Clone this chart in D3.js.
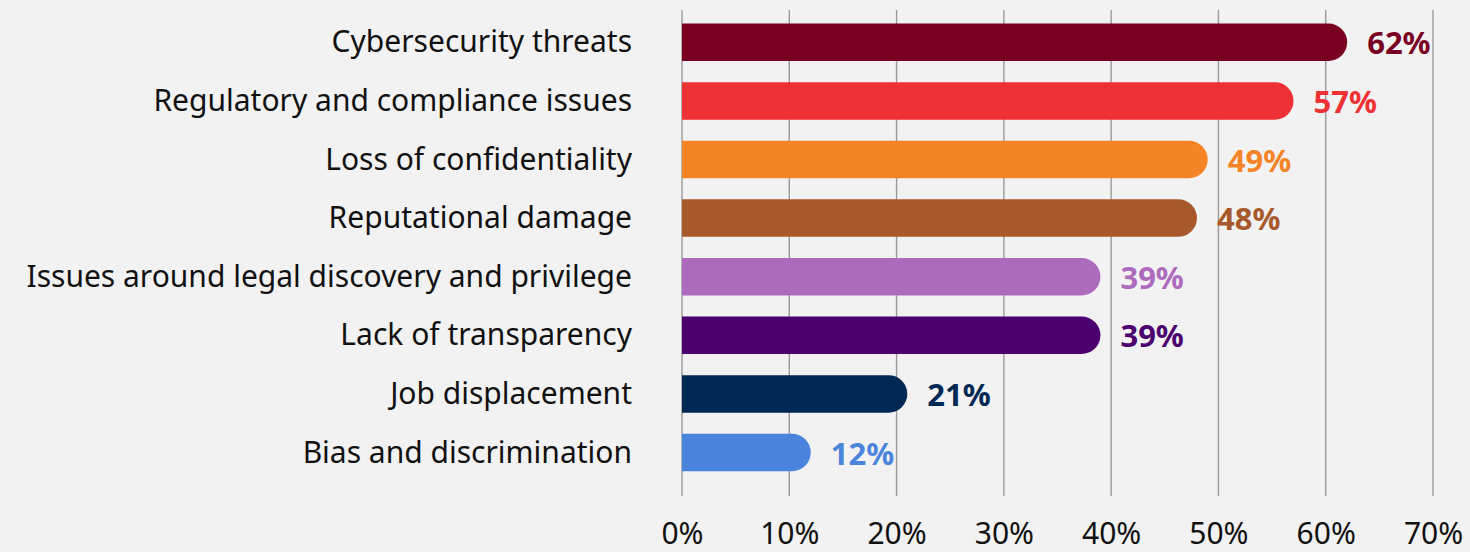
<!DOCTYPE html>
<html>
<head>
<meta charset="utf-8">
<script src="https://cdn.jsdelivr.net/npm/d3@7"></script>
<style>
  html, body { margin: 0; padding: 0; background: #f2f2f2; }
  svg { display: block; }
  text { font-family: "Noto Sans", "Open Sans", sans-serif; }
</style>
</head>
<body>
<svg id="chart" width="1470" height="552"></svg>
<script>
// Risk categories, share of respondents (%) and bar colours
const categories = [
  "Cybersecurity threats",
  "Regulatory and compliance issues",
  "Loss of confidentiality",
  "Reputational damage",
  "Issues around legal discovery and privilege",
  "Lack of transparency",
  "Job displacement",
  "Bias and discrimination"
];
const values = [62, 57, 49, 48, 39, 39, 21, 12];
const colors = ["#7a0022", "#ee3135", "#f58426", "#a8592b", "#ad6bbd", "#4c0070", "#002855", "#4b84dd"];
const tickValues = [0, 10, 20, 30, 40, 50, 60, 70];

const width = 1470, height = 552;
const margin = { left: 682, right: 37 };

const svg = d3.select("#chart");

const x = d3.scaleLinear()
  .domain([0, 70])
  .range([margin.left, width - margin.right]);

const y = d3.scaleBand()
  .domain(categories)
  .range([13, 13 + 58.6 * 8])
  .paddingInner(0.36)
  .paddingOuter(0.18);

// vertical gridlines
svg.append("g")
  .selectAll("line")
  .data(tickValues)
  .join("line")
  .attr("x1", d => x(d)).attr("x2", d => x(d))
  .attr("y1", 10).attr("y2", 496)
  .attr("stroke", "#9a9a9a")
  .attr("stroke-width", 1.4);

// x axis tick labels
const xAxis = d3.axisBottom(x)
  .tickValues(tickValues)
  .tickFormat(d => d + "%")
  .tickSize(0)
  .tickPadding(0);

const axisG = svg.append("g")
  .attr("transform", "translate(0,520)")
  .call(xAxis);
axisG.select(".domain").remove();
axisG.selectAll("text")
  .attr("dy", null)
  .attr("y", 24)
  .attr("fill", "#111")
  .style("font-size", "30px")
  .style("font-family", "'Noto Sans', sans-serif");

// bars: square on the left, fully rounded on the right
function barPath(v, cat) {
  const x0 = x(0), x1 = x(v);
  const top = y(cat), h = y.bandwidth();
  const r = Math.min(h / 2, x1 - x0);
  return `M${x0},${top}H${x1 - r}A${r},${r} 0 0 1 ${x1},${top + r}` +
         `V${top + h - r}A${r},${r} 0 0 1 ${x1 - r},${top + h}H${x0}Z`;
}

const rows = categories.map((c, i) => ({ c, v: values[i], col: colors[i] }));

svg.append("g")
  .selectAll("path")
  .data(rows)
  .join("path")
  .attr("d", d => barPath(d.v, d.c))
  .attr("fill", d => d.col);

// value labels
svg.append("g")
  .selectAll("text")
  .data(rows)
  .join("text")
  .attr("x", d => x(d.v) + 20)
  .attr("y", d => y(d.c) + y.bandwidth() / 2 + 12)
  .attr("fill", d => d.col)
  .style("font-size", "31px")
  .style("font-weight", "700")
  .text(d => d.v + "%");

// category labels
svg.append("g")
  .selectAll("text")
  .data(rows)
  .join("text")
  .attr("x", 632)
  .attr("y", d => y(d.c) + y.bandwidth() / 2 + 10)
  .attr("text-anchor", "end")
  .attr("fill", "#111")
  .style("font-size", "30px")
  .text(d => d.c);
</script>
</body>
</html>
